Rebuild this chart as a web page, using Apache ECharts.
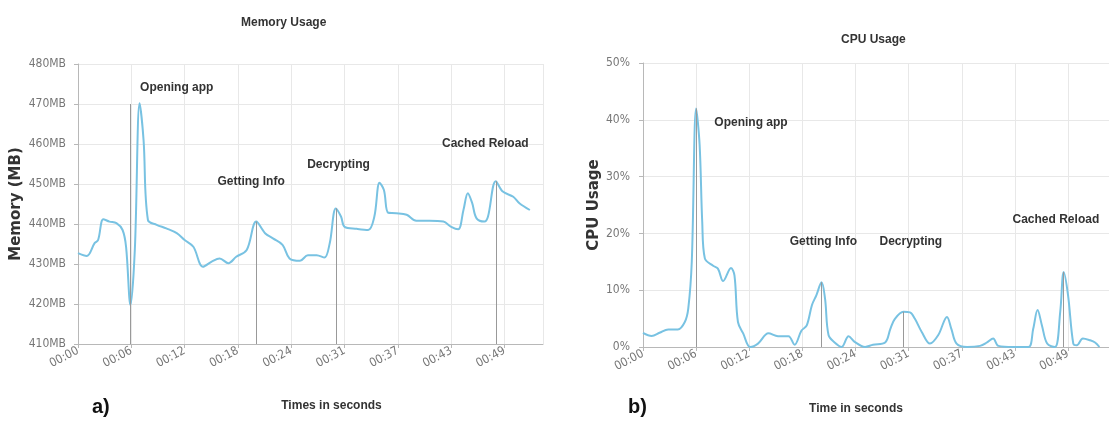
<!DOCTYPE html>
<html>
<head>
<meta charset="utf-8">
<title>Memory and CPU usage</title>
<script src="https://cdn.jsdelivr.net/npm/echarts@6/dist/echarts.min.js"></script>
<style>
  html, body { margin: 0; background: #fff; }
  #chart { width: 1109px; height: 422px; }
</style>
</head>
<body>
<div id="chart"></div>
<script>
// tick labels for both time axes (one label every 6.1 s)
const tickStep = 6.1;
const timeLabels = ["00:00", "00:06", "00:12", "00:18", "00:24", "00:31", "00:37", "00:43", "00:49"];

// memory usage (seconds, MB)
const memTimes = [0, 1.0, 1.9, 2.3, 2.9, 3.6, 4.4, 5.1, 5.5, 6.0, 6.5, 7.05, 7.5, 8.0, 9.0, 10.1, 11.3, 12.2, 13.2,
  14.3, 15.3, 16.2, 17.2, 18.1, 19.3, 20.4, 21.4, 22.3, 23.4, 24.2, 25.4, 26.3, 27.3, 28.2, 28.8, 29.5, 30.1, 30.5,
  31.9, 33.2, 33.9, 34.5, 35.0, 35.5, 36.4, 37.6, 38.7, 40.2, 41.8, 42.7, 43.5, 44.1, 44.6, 45.1, 45.6, 46.5, 46.9,
  47.8, 48.6, 49.8, 50.5, 51.7];
const memValues = [432.7, 432, 435.2, 436, 441.2, 440.6, 440.2, 438.5, 434.3, 419.7, 433.5, 470.2, 461, 441, 439.8,
  438.9, 437.7, 436, 434.3, 429.3, 430.6, 431.4, 430.2, 431.8, 433.5, 440.6, 437.7, 436.4, 434.8, 431.4, 430.8, 432.2,
  432.2, 431.6, 435.2, 443.9, 441.8, 439.3, 438.8, 438.5, 441.8, 450.3, 448.5, 442.8, 442.7, 442.3, 440.8, 440.8,
  440.6, 439.3, 438.7, 443.5, 447.7, 445.2, 441.4, 440.6, 441.8, 450.7, 448.1, 446.8, 445.2, 443.5];

// cpu usage (seconds, %)
const cpuTimes = [0, 1.0, 1.9, 2.9, 4.0, 4.8, 5.2, 5.6, 6.1, 6.5, 6.8, 7.1, 8.05, 8.6, 9.2, 10.1, 10.5, 10.9, 11.5,
  12.3, 13.2, 14.4, 15.5, 16.7, 17.4, 18.2, 18.8, 19.4, 19.9, 20.5, 20.9, 21.3, 22.0, 22.8, 23.6, 24.3, 25.5, 26.4,
  27.8, 28.4, 28.9, 29.9, 30.65, 31.2, 32.0, 32.95, 33.9, 34.9, 35.4, 36.0, 37.2, 38.7, 39.5, 40.2, 40.8, 42.5, 44.25,
  44.8, 45.3, 45.8, 46.4, 47.3, 47.9, 48.3, 48.8, 49.4, 49.8, 50.5, 51.3, 51.9, 52.4];
const cpuValues = [2.5, 1.95, 2.5, 3.1, 3.1, 4.4, 6.8, 15, 42, 35.6, 22, 15.6, 14.3, 13.8, 11.6, 13.9, 12.6, 4.4, 2.4,
  0, 0.6, 2.4, 1.9, 1.9, 0.4, 2.9, 3.8, 7.4, 9.1, 11.4, 8.5, 2.1, 0.8, 0, 1.9, 0.9, 0, 0.4, 0.8, 3.2, 4.9, 6.2, 6.1,
  5.0, 2.65, 0.6, 2.1, 5.3, 3.2, 0.6, 0, 0.2, 0.8, 1.5, 0.2, 0, 0, 3.2, 6.5, 3.8, 0.6, 0, 6.2, 13.2, 9.1, 0.6, 0.3,
  1.5, 1.2, 0.8, 0];

// events: time of the marker line and the height it reaches
const eventNames = ["Opening app", "Getting Info", "Decrypting", "Cached Reload"];
const memEventTimes = [6.0, 20.4, 29.5, 47.8];
const memEventTops = [470, 440.6, 443.9, 450.7];
const cpuEventTimes = [6.1, 20.5, 29.9, 48.3];
const cpuEventTops = [42, 11.4, 6.2, 13.2];

// where the event captions sit, in data units
const memNoteTimes = [11.3, 19.8, 29.8, 46.6];
const memNoteValues = [474, 450.6, 454.8, 460.1];
const cpuNoteTimes = [12.4, 20.7, 30.75, 47.4];
const cpuNoteValues = [39.5, 18.6, 18.5, 22.4];

const narrow = "'DejaVu Sans Condensed', 'Liberation Sans', sans-serif";
const bold = "'Liberation Sans', Arial, sans-serif";
const lineColor = "#78c2e2";
const gridColor = "#e8e8e8";
const axisColor = "#b8b8b8";

function xAxisFor(gridIndex, max, name, padding) {
  return {
    type: "value",
    gridIndex: gridIndex,
    min: 0,
    max: max,
    interval: tickStep,
    name: name,
    nameLocation: "middle",
    nameGap: 56,
    nameTextStyle: { fontFamily: bold, fontWeight: "bold", fontSize: 12, color: "#333", padding: padding },
    axisLine: { lineStyle: { color: axisColor } },
    axisTick: { lineStyle: { color: axisColor }, length: 4 },
    splitLine: { show: true, lineStyle: { color: gridColor } },
    axisLabel: {
      rotate: 28,
      margin: 6,
      color: "#777",
      fontSize: 12,
      fontFamily: narrow,
      showMaxLabel: false,
      formatter: (v) => timeLabels[Math.round(v / tickStep)] || "",
    },
  };
}

function yAxisFor(gridIndex, min, max, unit, name, nameGap, offset) {
  return {
    type: "value",
    gridIndex: gridIndex,
    min: min,
    max: max,
    interval: 10,
    offset: offset,
    name: name,
    nameLocation: "middle",
    nameRotate: 90,
    nameGap: nameGap,
    nameTextStyle: { fontFamily: "'DejaVu Sans', sans-serif", fontWeight: "bold", fontSize: 15, color: "#333" },
    axisLine: { show: true, lineStyle: { color: axisColor } },
    axisTick: { show: true, lineStyle: { color: axisColor }, length: 4 },
    splitLine: { lineStyle: { color: gridColor } },
    axisLabel: { color: "#777", fontSize: 12, fontFamily: narrow, margin: 6, formatter: "{value}" + unit },
  };
}

function seriesFor(index, times, values, base, evTimes, evTops, noteTimes, noteValues) {
  return {
    type: "line",
    xAxisIndex: index,
    yAxisIndex: index,
    data: times.map((t, i) => [t, values[i]]),
    smooth: 0.35,
    showSymbol: false,
    lineStyle: { color: lineColor, width: 2 },
    itemStyle: { color: lineColor },
    markLine: {
      silent: true,
      symbol: "none",
      label: { show: false },
      lineStyle: { color: "#999", width: 1, type: "solid" },
      data: evTimes.map((t, i) => [{ coord: [t, base] }, { coord: [t, evTops[i]] }]),
    },
    markPoint: {
      silent: true,
      symbol: "circle",
      symbolSize: 0,
      label: {
        show: true,
        position: "inside",
        formatter: "{b}",
        color: "#333",
        fontFamily: bold,
        fontWeight: "bold",
        fontSize: 12,
      },
      data: eventNames.map((n, i) => ({ name: n, coord: [noteTimes[i], noteValues[i]] })),
    },
  };
}

const chart = echarts.init(document.getElementById("chart"));
chart.setOption({
  animation: false,
  title: [
    { text: "Memory Usage", left: 236, top: 12,
      textStyle: { fontFamily: bold, fontWeight: "bold", fontSize: 12, color: "#333" } },
    { text: "CPU Usage", left: 836, top: 29,
      textStyle: { fontFamily: bold, fontWeight: "bold", fontSize: 12, color: "#333" } },
  ],
  grid: [
    { left: 78, right: 566, top: 64, bottom: 78 },
    { left: 643, right: 0, top: 63, bottom: 75 },
  ],
  xAxis: [
    xAxisFor(0, 53.2, "Times in seconds", [0, 0, 0, 42]),
    xAxisFor(1, 53.5, "Time in seconds", [0, 40, 0, 0]),
  ],
  yAxis: [
    yAxisFor(0, 410, 480, "MB", "Memory (MB)", 48, 6),
    yAxisFor(1, 0, 50, "%", "CPU Usage", 33, 7),
  ],
  series: [
    seriesFor(0, memTimes, memValues, 410, memEventTimes, memEventTops, memNoteTimes, memNoteValues),
    seriesFor(1, cpuTimes, cpuValues, 0, cpuEventTimes, cpuEventTops, cpuNoteTimes, cpuNoteValues),
  ],
  graphic: [
    { type: "text", left: 92, top: 397,
      style: { text: "a)", font: "bold 20px 'Liberation Sans', sans-serif", fill: "#111" } },
    { type: "text", left: 628, top: 397,
      style: { text: "b)", font: "bold 20px 'Liberation Sans', sans-serif", fill: "#111" } },
  ],
});
</script>
</body>
</html>
